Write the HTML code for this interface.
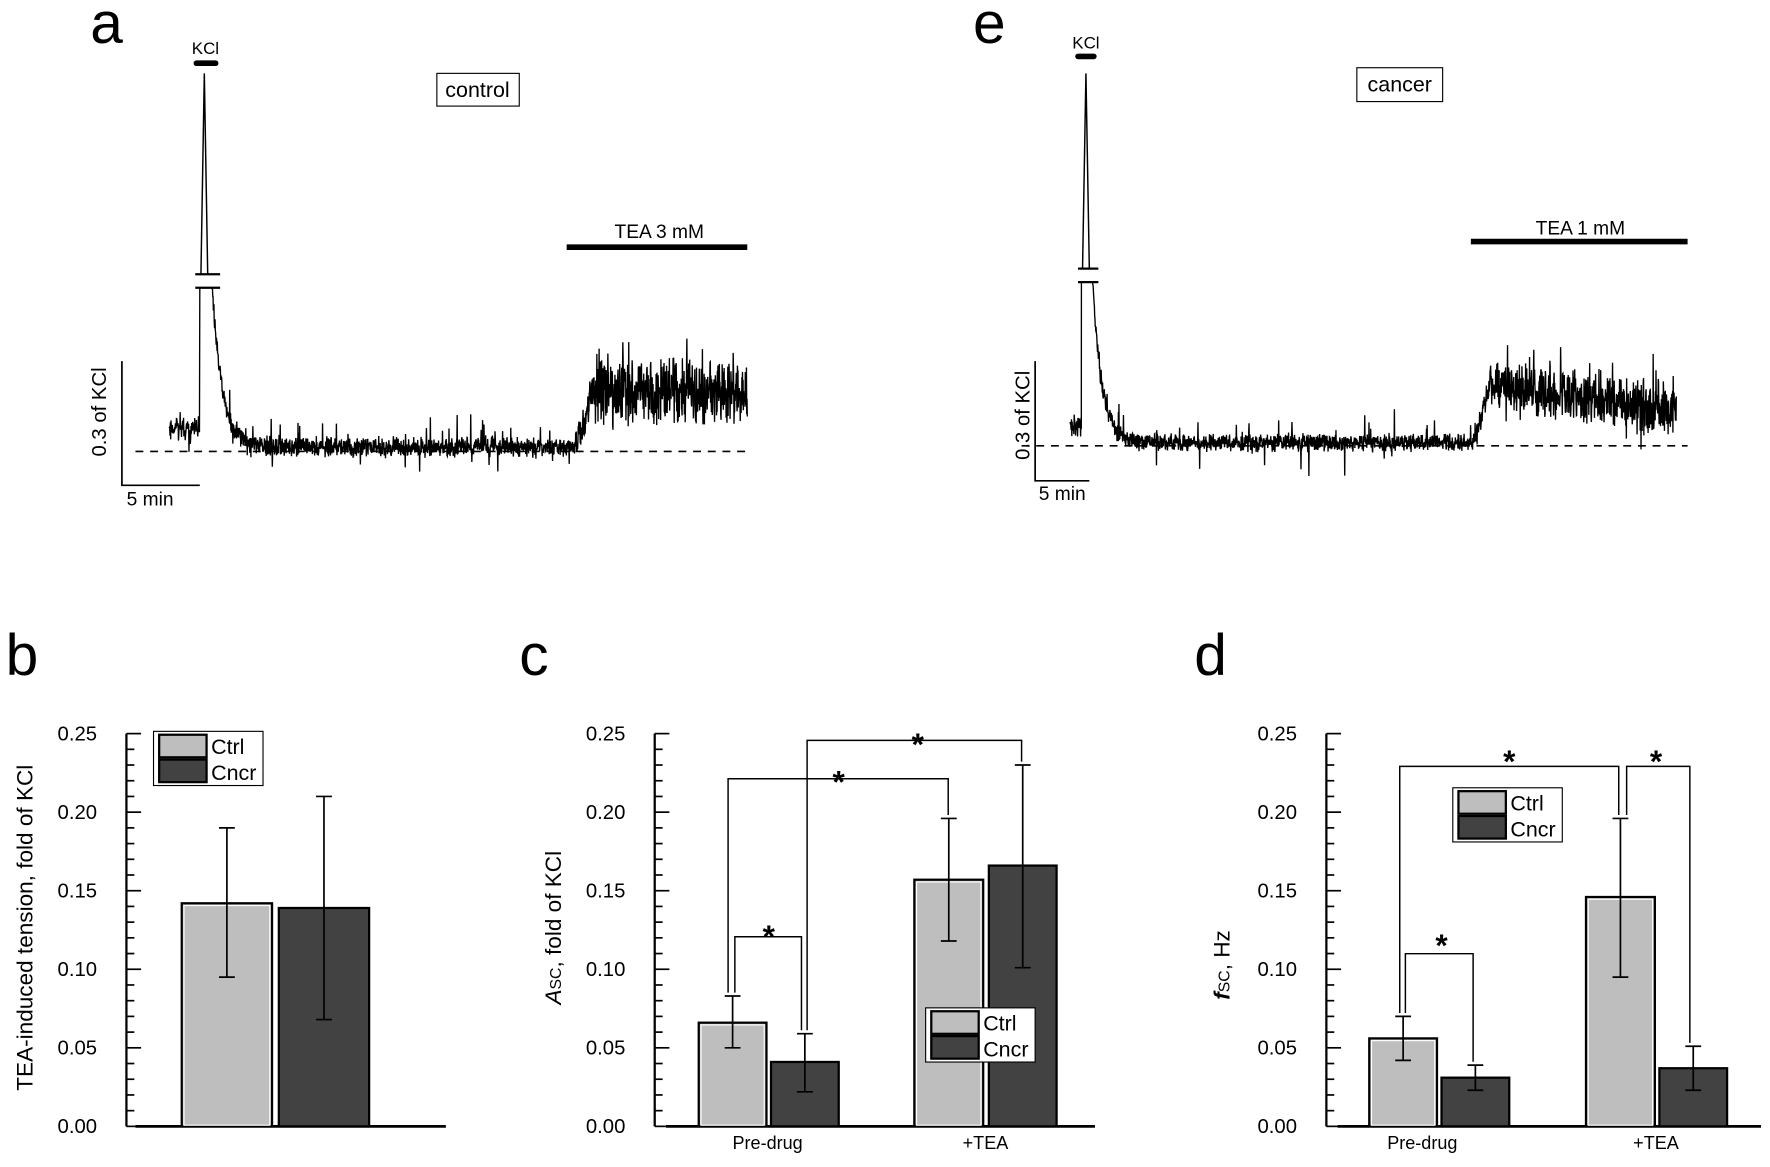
<!DOCTYPE html>
<html><head><meta charset="utf-8"><style>
html,body{margin:0;padding:0;background:#fff;}
svg{display:block;font-family:"Liberation Sans",Arial,sans-serif;}
</style></head><body>
<svg id="s" width="1770" height="1167" viewBox="0 0 1568 1034" preserveAspectRatio="none" xmlns="http://www.w3.org/2000/svg">
<rect width="1568" height="1034" fill="#fff"/>
<text x="80" y="38" font-size="52">a</text>
<text x="862" y="38" font-size="52">e</text>
<text x="5" y="598" font-size="52">b</text>
<text x="460" y="598" font-size="52">c</text>
<text x="1058" y="598" font-size="52">d</text>

<!-- panel a -->
<text x="182" y="48" font-size="15" text-anchor="middle">KCl</text>
<line x1="174" y1="56" x2="191" y2="56" stroke="#000" stroke-width="5" stroke-linecap="round"/>
<rect x="387" y="65" width="73" height="29" fill="#fff" stroke="#000" stroke-width="1"/>
<text x="423" y="86" font-size="19" text-anchor="middle">control</text>
<line x1="502" y1="219" x2="662" y2="219" stroke="#000" stroke-width="5"/>
<text x="584" y="211" font-size="17" text-anchor="middle">TEA 3 mM</text>
<line x1="120" y1="400" x2="662" y2="400" stroke="#000" stroke-width="1.5" stroke-dasharray="7,6"/>
<path d="M108 320 V430 H177" fill="none" stroke="#000" stroke-width="1.5"/>
<text transform="translate(94,365) rotate(-90)" font-size="18" text-anchor="middle">0.3 of KCl</text>
<text x="133" y="448" font-size="17" text-anchor="middle">5 min</text>
<path d="M178 243 L181 65 L184 243" fill="none" stroke="#000" stroke-width="1.3"/>
<line x1="173" y1="243" x2="195" y2="243" stroke="#000" stroke-width="2"/>
<line x1="173" y1="255" x2="195" y2="255" stroke="#000" stroke-width="2"/>
<polyline id="ta" fill="none" stroke="#000" stroke-width="1.2"/>

<!-- panel e -->
<text x="962" y="43" font-size="15" text-anchor="middle">KCl</text>
<line x1="955" y1="50" x2="969" y2="50" stroke="#000" stroke-width="5" stroke-linecap="round"/>
<rect x="1202" y="60" width="76" height="30" fill="#fff" stroke="#000" stroke-width="1"/>
<text x="1240" y="81" font-size="19" text-anchor="middle">cancer</text>
<line x1="1303" y1="214" x2="1495" y2="214" stroke="#000" stroke-width="5"/>
<text x="1400" y="208" font-size="17" text-anchor="middle">TEA 1 mM</text>
<line x1="905" y1="395" x2="1495" y2="395" stroke="#000" stroke-width="1.5" stroke-dasharray="7,6"/>
<path d="M917 320 V426 H965" fill="none" stroke="#000" stroke-width="1.5"/>
<text transform="translate(912,368) rotate(-90)" font-size="18" text-anchor="middle">0.3 of KCl</text>
<text x="941" y="443" font-size="17" text-anchor="middle">5 min</text>
<path d="M959 238 L962 65 L965 238" fill="none" stroke="#000" stroke-width="1.3"/>
<line x1="955" y1="238" x2="973" y2="238" stroke="#000" stroke-width="2"/>
<line x1="955" y1="250" x2="973" y2="250" stroke="#000" stroke-width="2"/>
<polyline id="te" fill="none" stroke="#000" stroke-width="1.2"/>

<g id="bars"></g>
</svg>
<script>
var seed=12345;function r(){seed=(seed*16807)%2147483647;return seed/2147483647;}
function g(){return (r()+r()-1);}
var p=[];
for(var x=150;x<=177;x+=0.3){p.push(x.toFixed(2)+","+(380+g()*12+(r()<0.06?(r()-0.5)*35:0)).toFixed(1));}
p.push("177,255");p.push("188,255");
for(var x=188;x<=662;x+=0.25){var y;
 if(x<510){y=396-141*Math.exp(-(x-188)/9)+g()*10+(r()<0.04?-r()*28:0)+(r()<0.02?r()*18:0);}
 else if(x<525){y=396-(x-510)/15*50+g()*18;}
 else{y=348+g()*32+(r()<0.08?-r()*35:0)+(r()<0.05?r()*25:0);}
 p.push(x.toFixed(2)+","+y.toFixed(1));}
document.getElementById("ta").setAttribute("points",p.join(" "));
p=[];
for(var x=948;x<=958;x+=0.3){p.push(x.toFixed(2)+","+(377+g()*12).toFixed(1));}
p.push("958,250");p.push("968,250");
for(var x=968;x<=1485;x+=0.25){var y;
 if(x<1305){y=392-142*Math.exp(-(x-968)/8)+g()*9+(r()<0.03?-r()*22:0)+(r()<0.015?r()*28:0);}
 else if(x<1320){y=392-(x-1305)/15*50+g()*15;}
 else{var m=340+25*(x-1320)/165;y=m+g()*26+(r()<0.06?-r()*30:0)+(r()<0.03?r()*25:0);}
 p.push(x.toFixed(2)+","+y.toFixed(1));}
document.getElementById("te").setAttribute("points",p.join(" "));

var G=document.getElementById("bars"),h="";
function Y(v){return 998-v*1392;}
function axis(ax,x0,x1){
 h+='<line x1="'+ax+'" y1="'+Y(0.25)+'" x2="'+ax+'" y2="'+Y(0)+'" stroke="#000" stroke-width="2"/>';
 for(var i=0;i<=25;i++){var v=i/100,y=Y(v),L=(i%5==0)?13:7;
  h+='<line x1="'+ax+'" y1="'+y+'" x2="'+(ax+L)+'" y2="'+y+'" stroke="#000" stroke-width="1.5"/>';
  if(i%5==0)h+='<text x="'+(ax-26)+'" y="'+(y+6)+'" font-size="18" text-anchor="end">'+v.toFixed(2)+'</text>';}
 h+='<line x1="'+x0+'" y1="'+Y(0)+'" x2="'+x1+'" y2="'+Y(0)+'" stroke="#000" stroke-width="2.5"/>';}
function bar(x,w,v,lo,hi,dark){
 h+='<rect x="'+x+'" y="'+Y(v)+'" width="'+w+'" height="'+(Y(0)-Y(v))+'" fill="'+(dark?'#424242':'#bebebe')+'" stroke="#000" stroke-width="2"/>';
 if(!dark)h+='<rect x="'+(x+2)+'" y="'+(Y(v)+2)+'" width="'+(w-4)+'" height="'+(Y(0)-Y(v)-3)+'" fill="none" stroke="#fff" stroke-width="1"/>';
 var c=x+w/2;
 h+='<path d="M'+c+' '+Y(lo)+' V'+Y(hi)+' M'+(c-7)+' '+Y(lo)+' H'+(c+7)+' M'+(c-7)+' '+Y(hi)+' H'+(c+7)+'" stroke="#000" stroke-width="1.5" fill="none"/>';}
function leg(x,y){
 h+='<rect x="'+x+'" y="'+y+'" width="97" height="48" fill="#fff" stroke="#000" stroke-width="1"/>';
 h+='<rect x="'+(x+5)+'" y="'+(y+3)+'" width="42" height="20" fill="#bebebe" stroke="#000" stroke-width="2"/>';
 h+='<rect x="'+(x+5)+'" y="'+(y+25)+'" width="42" height="20" fill="#424242" stroke="#000" stroke-width="2"/>';
 h+='<text x="'+(x+51)+'" y="'+(y+20)+'" font-size="19">Ctrl</text><text x="'+(x+51)+'" y="'+(y+43)+'" font-size="19">Cncr</text>';}
function br(d){h+='<path d="'+d+'" stroke="#000" stroke-width="1.3" fill="none"/>';}
function star(x,y){h+='<text x="'+x+'" y="'+y+'" font-size="28" font-weight="bold" text-anchor="middle">*</text>';}
axis(112,120,395);
bar(161,80,0.142,0.095,0.19,0);bar(247,80,0.139,0.068,0.21,1);leg(136,648);
h+='<text transform="translate(29,822) rotate(-90)" font-size="20" text-anchor="middle">TEA-induced tension, fold of KCl</text>';
axis(580,590,970);
bar(619,60,0.066,0.050,0.083,0);bar(683,60,0.041,0.022,0.059,1);
bar(810,61,0.157,0.118,0.196,0);bar(876,60,0.166,0.101,0.230,1);leg(820,893);
br("M651 "+(Y(0.083)-3)+" V830 H710 V"+(Y(0.059)-3));star(681,839);
br("M645 "+(Y(0.083)-3)+" V690 H840 V"+(Y(0.196)-3));star(743,702);
br("M715 "+(Y(0.059)-3)+" V656 H905 V"+(Y(0.230)-3));star(813,669);
h+='<text x="680" y="1018" font-size="16" text-anchor="middle">Pre-drug</text><text x="873" y="1018" font-size="16" text-anchor="middle">+TEA</text>';
h+='<text transform="translate(497,822) rotate(-90)" font-size="20" text-anchor="middle"><tspan font-style="italic">A</tspan><tspan font-size="14">SC</tspan>, fold of KCl</text>';
axis(1175,1185,1560);
bar(1213,60,0.056,0.042,0.070,0);bar(1277,60,0.031,0.023,0.039,1);
bar(1405,61,0.146,0.095,0.196,0);bar(1470,60,0.037,0.023,0.051,1);leg(1287,698);
br("M1245 "+(Y(0.07)-3)+" V845 H1305 V"+(Y(0.039)-3));star(1277,847);
br("M1240 "+(Y(0.07)-3)+" V679 H1434 V"+(Y(0.196)-3));star(1337,684);
br("M1441 "+(Y(0.196)-3)+" V679 H1497 V"+(Y(0.051)-3));star(1467,684);
h+='<text x="1260" y="1018" font-size="16" text-anchor="middle">Pre-drug</text><text x="1467" y="1018" font-size="16" text-anchor="middle">+TEA</text>';
h+='<text transform="translate(1089,855) rotate(-90)" font-size="20" text-anchor="middle"><tspan font-style="italic" font-weight="bold">f</tspan><tspan font-size="14">SC</tspan>, Hz</text>';
G.innerHTML=h;
</script>
</body></html>
